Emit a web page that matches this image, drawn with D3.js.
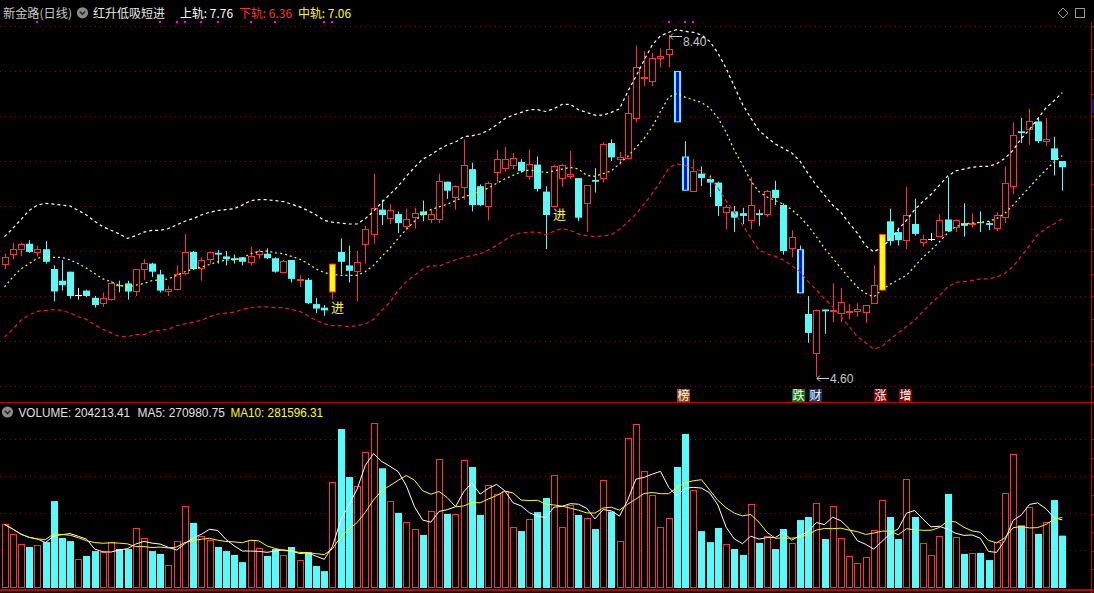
<!DOCTYPE html>
<html><head><meta charset="utf-8">
<script src="https://cdn.jsdelivr.net/npm/d3@7"></script>
<style>
html,body{margin:0;padding:0;background:#000;overflow:hidden;}
svg{display:block;}
text{font-family:"Noto Sans CJK SC","Liberation Sans",Arial,sans-serif;}
</style></head><body>
<svg id="c" width="1094" height="593"></svg>
<script>
// ---------------- DATA ----------------
const opens = [5.84,5.95,6.01,6.08,5.98,6.02,5.80,5.67,5.77,5.51, 5.56,5.48,5.41,5.45,5.62,5.64,5.54,5.79,5.86,5.74,
 5.55,5.57,5.75,5.99,5.80,5.90,5.98,5.94,5.92,5.93, 5.87,5.96,5.97,5.92,5.76,5.90,5.67,5.68,5.41,5.37,
 5.54,5.99,5.84,5.77,6.06,6.18,6.46,6.36,6.41,6.27, 6.36,6.44,6.34,6.35,6.77,6.59,6.70,6.91,6.72,6.49,
 6.86,6.91,6.94,6.99,6.83,6.96,6.66,6.50,6.81,6.83, 6.81,6.52,6.79,6.80,7.20,7.02,7.02,7.46,7.91,7.87,
 8.14,8.17,8.00,7.05,6.66,6.86,6.80,6.76,6.42,6.44, 6.42,6.33,6.42,6.40,6.68,6.51,6.02,6.02,5.30,4.86,
 5.35,5.33,5.30,5.31,5.33,5.31,5.41,5.56,6.33,6.21, 6.11,6.30,6.09,6.13,6.16,6.35,6.26,6.31,6.30,6.32,
 6.31,6.24,6.37,6.71,7.33,7.34,7.44,7.21,7.14,7.00];
const highs = [5.97,6.09,6.09,6.12,6.06,6.11,5.84,5.90,5.77,5.59, 5.57,5.50,5.54,5.67,5.67,5.67,5.80,5.91,5.87,5.79,
 5.61,5.84,6.19,6.00,5.93,5.99,6.01,6.00,5.96,5.93, 6.05,6.02,6.03,5.93,5.90,5.90,5.73,5.70,5.48,5.40,
 5.86,6.14,6.06,6.00,6.28,6.86,6.57,6.52,6.44,6.47, 6.48,6.56,6.46,6.86,6.77,6.73,7.24,6.98,6.74,6.77,
 7.12,7.16,7.09,7.02,7.13,7.05,6.72,6.96,6.97,7.11, 6.81,6.73,6.92,7.21,7.24,7.10,7.73,8.28,8.22,8.20,
 8.25,8.40,8.00,7.22,7.02,6.94,6.84,6.77,6.51,6.50, 6.48,6.82,6.46,6.68,6.78,6.53,6.23,6.06,5.50,5.35,
 5.35,5.64,5.59,5.41,5.42,5.40,5.84,6.19,6.47,6.26, 6.71,6.58,6.18,6.20,6.41,6.82,6.35,6.53,6.42,6.44,
 6.33,6.43,6.94,7.43,7.48,7.58,7.48,7.48,7.27,7.00];
const lows = [5.80,5.91,5.94,5.98,5.94,5.86,5.44,5.56,5.47,5.46, 5.49,5.37,5.38,5.45,5.54,5.46,5.50,5.68,5.71,5.54,
 5.50,5.56,5.73,5.79,5.67,5.86,5.86,5.84,5.86,5.84, 5.84,5.91,5.91,5.76,5.76,5.65,5.60,5.41,5.31,5.28,
 5.46,5.74,5.65,5.44,5.86,6.08,6.29,6.30,6.20,6.23, 6.25,6.33,6.31,6.31,6.58,6.46,6.57,6.44,6.50,6.34,
 6.76,6.88,6.91,6.87,6.79,6.66,6.02,6.49,6.71,6.80, 6.33,6.21,6.65,6.76,7.00,6.96,7.02,7.43,7.83,7.83,
 8.04,8.04,7.43,6.67,6.66,6.72,6.60,6.39,6.24,6.21, 6.30,6.24,6.28,6.38,6.51,5.96,5.93,5.53,4.98,4.60,
 5.08,5.21,5.21,5.24,5.27,5.20,5.41,5.56,6.06,6.06, 6.02,6.17,6.05,6.11,6.16,6.21,6.21,6.16,6.26,6.21,
 6.23,6.22,6.31,6.63,7.20,7.18,7.20,7.17,6.84,6.67];
const closes = [5.93,6.02,6.08,5.99,6.02,5.88,5.55,5.62,5.50,5.51, 5.50,5.40,5.48,5.64,5.61,5.55,5.80,5.87,5.77,5.56,
 5.58,5.75,5.99,5.80,5.90,5.99,5.96,5.91,5.90,5.88, 5.95,6.00,5.92,5.77,5.89,5.69,5.69,5.42,5.36,5.34,
 5.86,5.88,5.78,5.88,6.24,6.48,6.40,6.46,6.31,6.36, 6.42,6.40,6.41,6.78,6.67,6.72,6.96,6.51,6.51,6.76,
 7.02,7.02,7.03,6.89,6.97,6.69,6.40,6.95,6.96,6.86, 6.37,6.73,6.77,7.19,7.04,7.05,7.53,8.04,7.93,8.14,
 8.17,8.24,7.43,6.67,6.89,6.81,6.76,6.50,6.49,6.37, 6.39,6.51,6.40,6.67,6.59,6.00,6.15,5.53,5.09,5.35,
 5.33,5.35,5.43,5.33,5.36,5.40,5.62,6.19,6.11,6.12, 6.40,6.19,6.13,6.13,6.35,6.22,6.35,6.28,6.31,6.31,
 6.29,6.40,6.76,7.29,7.31,7.44,7.22,7.24,7.01,6.93];
const volumes = [248000,212000,170000,160000,166000,179000,339000,195000,183000,112000,
 125000,144000,142000,178000,152000,152000,233000,194000,144000,133000,
 88000,182000,319000,254000,203000,187000,160000,144000,129000,101000,
 186000,155000,125000,152000,127000,160000,108000,139000,86000,66000,
 412000,620000,433000,397000,529000,642000,467000,339000,293000,256000,
 229000,207000,300000,502000,289000,287000,498000,472000,285000,400000,
 365000,377000,237000,222000,268000,296000,351000,439000,237000,322000,
 285000,272000,230000,420000,298000,182000,584000,638000,455000,361000,
 237000,272000,472000,601000,381000,222000,179000,234000,170000,152000,
 129000,326000,176000,201000,152000,230000,174000,265000,277000,330000,
 191000,319000,194000,124000,96000,120000,225000,342000,277000,191000,
 424000,277000,174000,127000,201000,367000,198000,133000,135000,137000,
 109000,181000,369000,521000,244000,315000,211000,256000,343000,204213.41];
const upperBand = [6.16,6.25,6.35,6.45,6.51,6.53,6.52,6.51,6.50,6.45, 6.40,6.33,6.27,6.23,6.19,6.14,6.17,6.21,6.23,6.23,
 6.25,6.29,6.33,6.36,6.40,6.43,6.45,6.46,6.47,6.51, 6.56,6.57,6.57,6.56,6.55,6.52,6.49,6.45,6.40,6.34,
 6.32,6.31,6.30,6.30,6.36,6.44,6.54,6.63,6.72,6.83, 6.93,7.02,7.07,7.13,7.18,7.21,7.27,7.28,7.30,7.34,
 7.40,7.47,7.51,7.54,7.57,7.57,7.55,7.58,7.63,7.63, 7.57,7.54,7.51,7.51,7.54,7.58,7.77,7.94,8.12,8.29,
 8.39,8.43,8.46,8.44,8.43,8.40,8.33,8.20,8.03,7.83, 7.63,7.48,7.34,7.26,7.19,7.14,7.09,7.00,6.86,6.73,
 6.62,6.51,6.43,6.31,6.20,6.06,5.99,6.04,6.13,6.24, 6.34,6.46,6.55,6.63,6.73,6.83,6.89,6.91,6.93,6.94,
 6.94,6.97,7.03,7.12,7.25,7.35,7.47,7.59,7.67,7.76];
const midBand = [5.60,5.71,5.80,5.86,5.92,5.94,5.93,5.93,5.90,5.86, 5.81,5.75,5.69,5.66,5.62,5.60,5.62,5.64,5.67,5.68,
 5.69,5.73,5.77,5.80,5.82,5.85,5.88,5.90,5.90,5.92, 5.97,5.99,6.00,5.98,5.97,5.94,5.91,5.86,5.80,5.76,
 5.74,5.73,5.73,5.73,5.77,5.84,5.94,6.03,6.14,6.24, 6.33,6.41,6.46,6.49,6.52,6.56,6.60,6.63,6.66,6.70,
 6.75,6.80,6.84,6.88,6.90,6.89,6.87,6.89,6.91,6.93, 6.91,6.84,6.83,6.86,6.89,6.97,7.05,7.15,7.25,7.38,
 7.55,7.71,7.75,7.71,7.68,7.65,7.59,7.48,7.32,7.12, 6.96,6.78,6.66,6.60,6.56,6.52,6.46,6.38,6.28,6.16,
 6.03,5.92,5.81,5.70,5.60,5.53,5.49,5.57,5.63,5.68, 5.73,5.83,5.93,6.01,6.10,6.20,6.27,6.30,6.31,6.32,
 6.33,6.36,6.42,6.51,6.61,6.71,6.81,6.90,6.99,7.06];
const lowerBand = [5.04,5.13,5.23,5.29,5.33,5.34,5.35,5.34,5.31,5.27, 5.24,5.18,5.13,5.09,5.05,5.05,5.07,5.07,5.11,5.12,
 5.13,5.17,5.19,5.21,5.23,5.27,5.30,5.31,5.32,5.35, 5.37,5.38,5.38,5.37,5.37,5.35,5.33,5.28,5.23,5.19,
 5.17,5.17,5.16,5.17,5.19,5.24,5.34,5.43,5.56,5.66, 5.73,5.80,5.84,5.83,5.87,5.90,5.93,5.95,5.97,6.01,
 6.06,6.12,6.18,6.20,6.21,6.21,6.18,6.22,6.25,6.23, 6.19,6.17,6.16,6.17,6.18,6.24,6.32,6.41,6.52,6.64,
 6.77,6.92,6.97,6.95,6.92,6.89,6.82,6.70,6.56,6.43, 6.29,6.15,6.01,5.97,5.94,5.90,5.84,5.77,5.66,5.57,
 5.47,5.38,5.27,5.16,5.05,4.98,4.91,4.94,5.02,5.09, 5.16,5.23,5.33,5.42,5.50,5.60,5.65,5.66,5.67,5.69,
 5.69,5.71,5.75,5.83,5.94,6.06,6.18,6.25,6.30,6.36];
const priceGrid = [4.5,5.0,5.5,6.0,6.5,7.0,7.5,8.0,8.5];
const priceTicks = [4.5,4.75,5.0,5.25,5.5,5.75,6.0,6.25,6.5,6.75,7.0,7.25,7.5,7.75,8.0,8.25,8.5];
const volGrid = [148000,292000,437000,581000];
const volTicks = [72600,145200,217800,290400,363000,435600,508200,580800];
const yellowSignals = [40,107];
const blueSignals = [82,83,97];
const entrySignals = [40,67];
const entryText = '进';
const topDots = [4,19,21,22,24,26,30,33,39,40,81,83,84];
const markIdx = [83,97,99,107,110];
const markText = ['榜','跌','财','涨','增'];
const titleTexts = ['新金路(日线)','红升低吸短进'];
const bandNames = ['上轨','下轨','中轨'];
const volHeader = ['VOLUME: 204213.41','MA5: 270980.75','MA10: 281596.31'];

// ---------------- DRAW ----------------
const W=1094,H=593;
const svg=d3.select('#c');
svg.append('rect').attr('width',W).attr('height',H).attr('fill','#000');
const n=closes.length;
const x=d3.scaleLinear().domain([0,n-1]).range([4.5,1062.3]);
const y=d3.scaleLinear().domain([4.5,8.5]).range([386,26]);
const yv=d3.scaleLinear().domain([0,725400]).range([588,402]);
const px=i=>Math.round(x(i));
const RED='#ff3232',CYAN='#54fcfc',WHITE='#ffffff',YEL='#ffff00',GRID='#9a0000',AXIS='#c00000';

// grids
const g0=svg.append('g');
g0.selectAll('line.pg').data(priceGrid).join('line').attr('class','pg')
 .attr('x1',0).attr('x2',1090).attr('y1',d=>Math.round(y(d))+0.5).attr('y2',d=>Math.round(y(d))+0.5)
 .attr('stroke',GRID).attr('stroke-dasharray','1,4');
g0.selectAll('line.vg').data(volGrid).join('line').attr('class','vg')
 .attr('x1',0).attr('x2',1090).attr('y1',d=>Math.round(yv(d))+0.5).attr('y2',d=>Math.round(yv(d))+0.5)
 .attr('stroke',GRID).attr('stroke-dasharray','1,4');
// axes frame
g0.append('line').attr('x1',0).attr('x2',W).attr('y1',402.5).attr('y2',402.5).attr('stroke',AXIS);
g0.append('line').attr('x1',0).attr('x2',W).attr('y1',590).attr('y2',590).attr('stroke',AXIS).attr('stroke-width',2);
g0.append('line').attr('x1',1091.5).attr('x2',1091.5).attr('y1',22).attr('y2',H).attr('stroke',AXIS);
g0.selectAll('line.pt').data(priceTicks).join('line').attr('class','pt')
 .attr('x1',1091).attr('x2',1094).attr('y1',d=>Math.round(y(d))+0.5).attr('y2',d=>Math.round(y(d))+0.5).attr('stroke',AXIS);
g0.selectAll('line.vt').data(volTicks).join('line').attr('class','vt')
 .attr('x1',1091).attr('x2',1094).attr('y1',d=>Math.round(yv(d))+0.5).attr('y2',d=>Math.round(yv(d))+0.5).attr('stroke',AXIS);
g0.append('rect').attr('x',1092).attr('y',99).attr('width',2).attr('height',14).attr('fill','#101090');

// candles
const cg=svg.append('g');
for(let i=0;i<n;i++){
  const o=opens[i],c=closes[i],h=highs[i],l=lows[i];
  const cx=px(i);
  const isY=yellowSignals.includes(i),isB=blueSignals.includes(i);
  let col=c>o?RED:(c<o?CYAN:WHITE);
  if(isY)col=RED; if(isB)col=CYAN;
  cg.append('line').attr('x1',cx+0.5).attr('x2',cx+0.5).attr('y1',y(h)).attr('y2',y(l)).attr('stroke',col);
  const top=y(Math.max(o,c)),bot=y(Math.min(o,c));
  const bh=Math.max(1,bot-top);
  if(isY){
    cg.append('rect').attr('x',cx-3).attr('y',top).attr('width',7).attr('height',bh).attr('fill',RED);
    cg.append('rect').attr('x',cx-2).attr('y',top+1).attr('width',5).attr('height',bh-2).attr('fill',YEL);
  }else if(isB){
    cg.append('rect').attr('x',cx-3).attr('y',top).attr('width',7).attr('height',bh).attr('fill',CYAN);
    cg.append('rect').attr('x',cx-1).attr('y',top+1).attr('width',3).attr('height',bh-2).attr('fill','#0000ff');
  }else if(c>o){
    cg.append('rect').attr('x',cx-2.5).attr('y',Math.round(top)+0.5).attr('width',6)
      .attr('height',Math.max(1,Math.round(bh)-1)).attr('fill','#000').attr('stroke',RED);
  }else if(c<o){
    cg.append('rect').attr('x',cx-3).attr('y',top).attr('width',7).attr('height',bh).attr('fill',CYAN);
  }else{
    cg.append('line').attr('x1',cx-3).attr('x2',cx+4).attr('y1',Math.round(top)+0.5).attr('y2',Math.round(top)+0.5).attr('stroke',WHITE);
  }
}

// bands
const band=d3.line().x((d,i)=>x(i)).y(d=>y(d));
svg.append('path').attr('d',band(upperBand)).attr('fill','none').attr('stroke',WHITE).attr('stroke-width',1.2).attr('stroke-dasharray','3,3');
svg.append('path').attr('d',band(midBand)).attr('fill','none').attr('stroke',YEL).attr('stroke-width',1.2).attr('stroke-dasharray','2,3');
svg.append('path').attr('d',band(lowerBand)).attr('fill','none').attr('stroke','#e02020').attr('stroke-width',1.2).attr('stroke-dasharray','4,3');

// entry labels
svg.selectAll('text.entry').data(entrySignals).join('text').attr('class','entry')
 .attr('x',i=>px(i)-1).attr('y',i=>y(lows[i])+12.5).attr('fill',YEL).style('font-size','13px').text(entryText);

// top dots
svg.selectAll('rect.dot').data(topDots).join('rect').attr('class','dot')
 .attr('x',i=>px(i)-1).attr('y',21).attr('width',2).attr('height',2).attr('fill','#ff00ff');

// extreme arrows
function arrow(i,val,ay,tdy){
  const cx=px(i);
  const g=svg.append('g').attr('stroke','#c8c8c8');
  g.append('line').attr('x1',cx+1).attr('x2',cx+13).attr('y1',ay).attr('y2',ay);
  g.append('line').attr('x1',cx+1).attr('x2',cx+4).attr('y1',ay).attr('y2',ay-3);
  g.append('line').attr('x1',cx+1).attr('x2',cx+4).attr('y1',ay).attr('y2',ay+3);
  svg.append('text').attr('x',cx+14).attr('y',ay+tdy).attr('fill','#c8c8c8')
   .style('font-family','"Liberation Sans",Arial,sans-serif').style('font-size','12px').text(val.toFixed(2));
}
const hi=d3.maxIndex(highs),lo=d3.minIndex(lows);
arrow(hi,highs[hi],Math.round(y(highs[hi]))+1.5,9);
arrow(lo,lows[lo],Math.round(y(lows[lo]))+1.5,4.5);

// mark boxes
const markBg={'榜':'#8a4a12','跌':'#0a7a0a','财':'#0c3c6e','涨':'#8c0000','增':'#8c0000'};
markIdx.forEach((i,k)=>{
  const cx=x(i)-1.2;
  svg.append('rect').attr('x',Math.round(cx-6.5)).attr('y',389).attr('width',13).attr('height',13).attr('fill',markBg[markText[k]]);
  svg.append('text').attr('x',Math.round(cx-6.5)+6.5).attr('y',400).attr('text-anchor','middle').attr('fill','#ffffff').style('font-size','12px').text(markText[k]);
});

// volume bars
const vg=svg.append('g');
for(let i=0;i<n;i++){
  const cx=px(i),v=volumes[i],up=closes[i]>=opens[i];
  const t=yv(v);
  if(up){
    vg.append('rect').attr('x',cx-2.5).attr('y',Math.round(t)+0.5).attr('width',6).attr('height',Math.max(1,587-Math.round(t)))
      .attr('fill','#000').attr('stroke',RED);
  }else{
    vg.append('rect').attr('x',cx-3).attr('y',t).attr('width',7).attr('height',588-t).attr('fill',CYAN);
  }
}
const ma=k=>volumes.map((v,i)=>d3.mean(volumes.slice(Math.max(0,i-k+1),i+1)));
const vline=d3.line().x((d,i)=>x(i)).y(d=>yv(d));
svg.append('path').attr('d',vline(ma(5))).attr('fill','none').attr('stroke',WHITE).attr('stroke-width',1);
svg.append('path').attr('d',vline(ma(10))).attr('fill','none').attr('stroke',YEL).attr('stroke-width',1);

// headers
function txt(str,x0,x1,yb,color,size,fam){
  const t=svg.append('text').attr('x',x0).attr('y',yb).attr('fill',color).style('font-size',size+'px')
   .attr('textLength',x1-x0).attr('lengthAdjust','spacingAndGlyphs').text(str);
  if(fam)t.style('font-family',fam);
  return t;
}
txt(titleTexts[0],3,72,17.5,'#c8c8c8',12);
const ic=svg.append('g');
ic.append('circle').attr('cx',82.5).attr('cy',12.8).attr('r',5.6).attr('fill','#8a8a8a');
ic.append('path').attr('d','M79.8,11.5 L82.5,14.3 L85.2,11.5').attr('fill','none').attr('stroke','#2a2a2a').attr('stroke-width',1.6);
txt(titleTexts[1],93,165,17.5,'#e8e8e8',12);
txt(bandNames[0]+': '+upperBand[n-1].toFixed(2),180,233,17.5,'#ffffff',12);
txt(bandNames[1]+': '+lowerBand[n-1].toFixed(2),239,292,17.5,'#ff3232',12);
txt(bandNames[2]+': '+midBand[n-1].toFixed(2),298,351,17.5,'#ffff00',12);
const ic2=svg.append('g');
ic2.append('circle').attr('cx',7.5).attr('cy',412).attr('r',5.6).attr('fill','#8a8a8a');
ic2.append('path').attr('d','M4.8,410.7 L7.5,413.5 L10.2,410.7').attr('fill','none').attr('stroke','#2a2a2a').attr('stroke-width',1.6);
const LAT='"Liberation Sans",Arial,sans-serif';
txt(volHeader[0],18.5,130,416.5,'#e0e0e0',12.5,LAT);
txt(volHeader[1],137.5,225,416.5,'#e0e0e0',12.5,LAT);
txt(volHeader[2],230.5,323,416.5,'#ffff00',12.5,LAT);
// top-right icons
svg.append('path').attr('d','M1063,8 L1068,13 L1063,18 L1058,13 Z').attr('fill','none').attr('stroke','#9a9a9a');
svg.append('rect').attr('x',1075.5).attr('y',8.5).attr('width',9).attr('height',9).attr('fill','none').attr('stroke','#9a9a9a');
</script>
</body></html>
